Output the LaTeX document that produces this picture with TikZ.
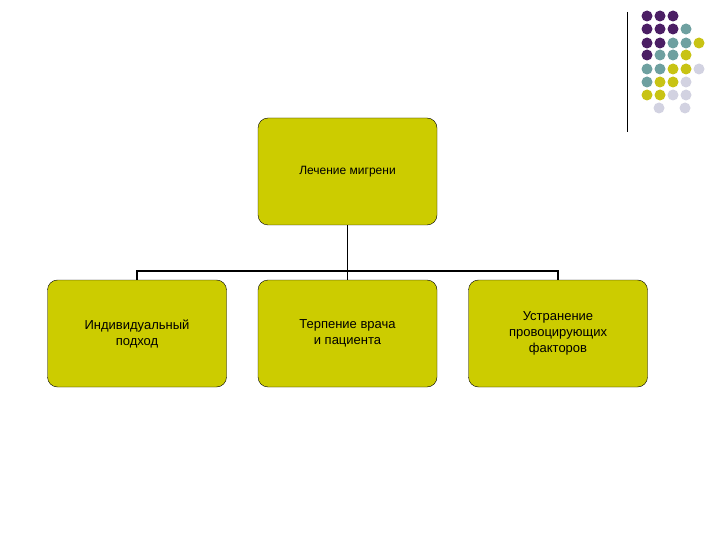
\documentclass[tikz,border=0pt]{standalone}
\usepackage{fontspec}
\setmainfont{Liberation Sans}
\begin{document}
\begin{tikzpicture}[x=1pt,y=-1pt,
 box/.style={draw=black,fill=olive!0,fill={rgb,255:red,204;green,204;blue,0},rounded corners=10pt,minimum width=179pt,minimum height=107pt,align=center,font=\fontsize{13}{16}\selectfont},
 dot/.style={circle,inner sep=0,minimum size=11pt}]
\definecolor{dP}{RGB}{75,30,100}\definecolor{dT}{RGB}{110,160,160}\definecolor{dY}{RGB}{200,195,20}\definecolor{dL}{RGB}{210,210,225}
\useasboundingbox (0,0) rectangle (720,540);
\draw (627,12) -- (627,132);
\foreach \r/\row in {16/{P,P,P},29/{P,P,P,T},43/{P,P,T,T,Y},55/{P,T,T,Y},69/{T,T,Y,Y,L},82/{T,Y,Y,L},95/{Y,Y,L,L}}{
 \foreach \c [count=\i] in \row { \pgfmathsetmacro\xx{647+13*(\i-1)} \node[dot,fill=d\c] at (\xx,\r) {}; } }
\node[dot,fill=dL] at (659,108) {}; \node[dot,fill=dL] at (685,108) {};
\node[box,font=\fontsize{12}{14}\selectfont] (t) at (347.5,171.5) {Лечение мигрени};
\node[box] (a) at (137,333.5) {Индивидуальный\\подход};
\node[box] (b) at (347.5,333.5) {Терпение врача\\и пациента};
\node[box] (c) at (558,333.5) {Устранение\\провоцирующих\\факторов};
\coordinate (j) at (347.5,271);
\draw[line width=1.2pt] (t.south) -- (j) (a.north) |- (j) -| (c.north) (j) -- (b.north);
\end{tikzpicture}
\end{document}
